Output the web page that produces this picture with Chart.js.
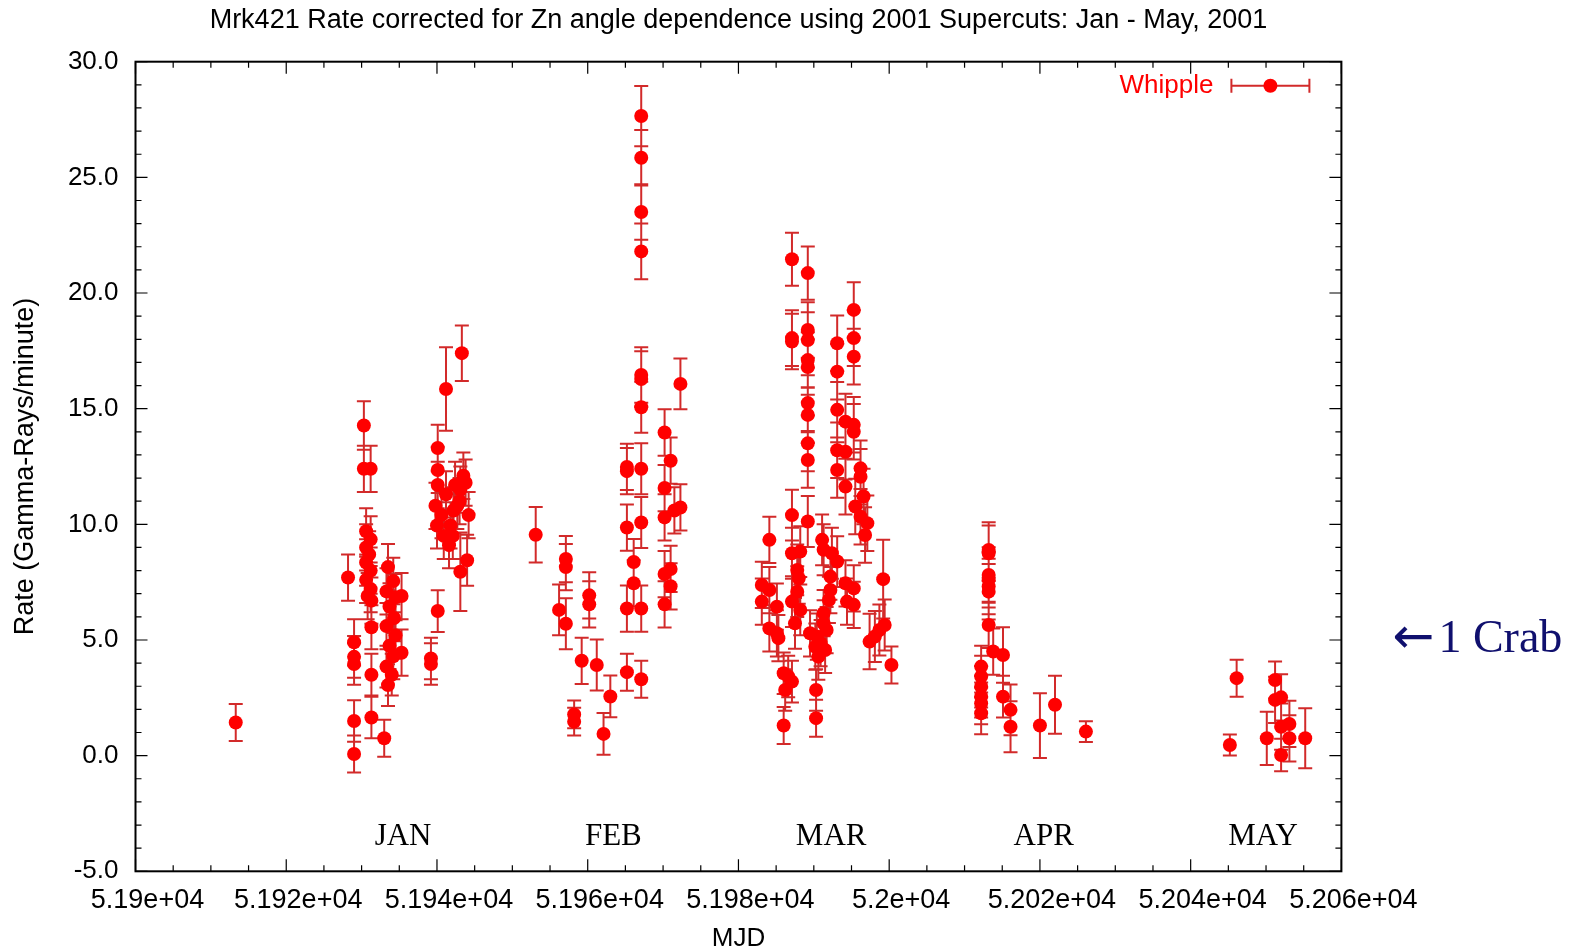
<!DOCTYPE html>
<html>
<head>
<meta charset="utf-8">
<title>Mrk421 Rate 2001</title>
<script src="https://cdn.jsdelivr.net/npm/chart.js@4.4.0/dist/chart.umd.min.js"></script>
<style>
  html, body { margin: 0; padding: 0; background: #fff; }
  canvas { display: block; }
</style>
</head>
<body>
<canvas id="rateChart" width="1585" height="952"></canvas>
<script>
// MJD of each Whipple run
const mjd = [
  51913.3,
  51928.2, 51929.0, 51929.0, 51929.0, 51929.0, 51929.0, 51930.3, 51930.3, 51931.2, 51930.6,
  51931.2, 51930.6, 51931.0, 51930.6, 51931.2, 51930.6, 51931.2, 51930.8, 51931.3, 51931.3,
  51931.3, 51931.3,
  51933.0, 51933.5, 51934.2, 51933.3, 51934.5, 51933.7, 51934.3, 51933.3, 51934.5, 51933.7,
  51934.2, 51933.3, 51934.0, 51933.5, 51935.3, 51935.3,
  51939.2, 51939.2, 51940.1, 51940.1, 51940.1, 51940.1, 51941.2, 51943.3, 51944.0, 51943.1,
  51939.8, 51940.6, 51941.2, 51941.8, 51942.4, 51942.7, 51943.1, 51943.5, 51940.9, 51941.6,
  51942.2, 51943.0, 51940.0, 51942.1, 51943.8, 51944.2,
  51953.1, 51956.2, 51957.1, 51957.1, 51957.1, 51958.2, 51958.2, 51959.2, 51960.2, 51960.2,
  51961.2, 51962.1, 51963.0, 51965.2, 51965.2, 51965.2, 51965.2, 51965.2, 51966.1, 51966.1,
  51967.1, 51967.1, 51967.1, 51967.1, 51967.1, 51967.1, 51967.1, 51967.1, 51967.1, 51967.1,
  51967.1, 51970.2, 51970.2, 51970.2, 51971.0, 51970.2, 51971.0, 51971.0, 51970.2, 51971.5,
  51972.3, 51972.3,
  51987.1, 51989.2, 51987.1, 51987.1, 51989.2, 51989.2, 51989.2, 51989.2, 51989.2, 51989.2,
  51989.2, 51989.2, 51995.3, 51995.3, 51995.3, 51993.1, 51993.1, 51993.1, 51994.2, 51995.3,
  51995.3, 51993.1, 51994.2, 51993.1, 51994.2, 51996.2, 51996.2, 51996.6, 51995.5, 51996.2,
  51997.1, 51996.8, 51987.1, 51989.2, 51984.1, 51991.1, 51991.3, 51992.4, 51993.1, 51987.1,
  51988.2, 51987.8, 51988.0, 51987.8, 51987.1, 51988.2, 51987.5, 51983.1, 51984.1, 51983.1,
  51985.1, 51984.1, 51985.1, 51985.3, 51986.0, 51986.6, 51987.1, 51986.2, 51986.0, 51990.3,
  51990.3, 51989.5, 51990.4, 51990.2, 51990.6, 51991.3, 51991.3, 51991.7, 51990.9, 51991.5,
  51992.2, 51992.2, 51992.0, 51994.2, 51995.3, 51994.4, 51995.3, 51999.2, 51997.4, 51998.1,
  51998.7, 51999.4, 52000.3,
  52013.2, 52013.2, 52013.2, 52013.2, 52013.2, 52013.2, 52013.2, 52013.8, 52015.1, 52012.2,
  52012.2, 52012.2, 52012.2, 52012.2, 52012.2, 52015.1, 52016.1, 52016.1, 52020.0, 52022.0,
  52026.1,
  52045.2, 52046.1, 52050.1, 52051.2, 52051.2, 52052.0, 52052.0, 52052.0, 52053.1, 52053.1,
  52055.2
];

// rate (gamma-rays / minute)
const rate = [
  1.43,
  7.70, 4.90, 4.27, 3.96, 1.50, 0.07, 14.27, 12.40, 12.40, 9.70,
  9.35, 9.00, 8.70, 8.35, 8.00, 7.60, 7.20, 6.90, 6.70, 5.55,
  3.50, 1.65,
  0.75, 8.15, 7.55, 7.10, 6.85, 6.45, 5.95, 5.60, 5.20, 4.75,
  4.30, 3.85, 3.50, 3.05, 6.90, 4.45,
  4.20, 3.96, 6.25, 13.30, 12.35, 11.70, 15.85, 17.40, 8.45, 7.95,
  10.80, 10.40, 11.30, 9.95, 11.70, 10.80, 11.50, 12.10, 9.50, 9.10,
  10.60, 11.00, 9.95, 9.50, 11.80, 10.40,
  9.55, 6.30, 8.50, 8.15, 5.70, 1.78, 1.47, 4.10, 6.93, 6.54,
  3.92, 0.94, 2.56, 12.48, 12.30, 9.86, 6.36, 3.61, 8.37, 7.45,
  27.65, 25.85, 23.50, 21.80, 16.46, 16.28, 15.06, 12.40, 10.08, 6.36,
  3.30, 13.97, 11.57, 10.30, 12.75, 7.85, 8.07, 7.32, 6.54, 10.60,
  10.73, 16.07,
  21.46, 20.86, 18.05, 17.90, 18.40, 17.97, 17.10, 16.80, 15.24, 14.73,
  13.50, 12.78, 19.27, 18.05, 17.25, 17.83, 16.60, 14.95, 14.44, 14.30,
  14.00, 13.20, 13.14, 12.35, 11.63, 12.42, 12.06, 11.20, 10.77, 10.33,
  10.05, 9.54, 10.40, 10.12, 9.33, 9.33, 8.90, 8.75, 8.39, 8.75,
  8.82, 8.03, 7.67, 7.09, 6.66, 6.30, 5.72, 7.38, 7.16, 6.66,
  6.44, 5.50, 5.29, 5.08, 3.56, 3.42, 3.20, 2.84, 1.30, 2.84,
  1.62, 5.29, 5.15, 4.71, 4.28, 5.72, 6.16, 5.43, 4.86, 4.57,
  7.74, 7.16, 6.73, 7.45, 7.23, 6.66, 6.52, 7.63, 4.93, 5.15,
  5.43, 5.65, 3.92,
  8.89, 8.75, 7.81, 7.60, 7.31, 7.09, 5.65, 4.50, 4.35, 3.85,
  3.42, 2.98, 2.55, 2.26, 1.83, 2.55, 1.98, 1.25, 1.30, 2.20,
  1.04,
  0.46, 3.35, 0.75, 3.27, 2.41, 2.52, 1.25, 0.03, 1.37, 0.75,
  0.75
];

// 1 sigma error on rate
const rateErr = [
  0.80,
  1.00, 1.00, 0.90, 0.90, 0.90, 0.80, 1.05, 1.00, 1.00, 1.00,
  1.00, 1.00, 1.00, 1.00, 1.00, 1.00, 1.00, 1.00, 1.00, 0.95,
  0.90, 0.90,
  0.80, 1.00, 1.00, 1.00, 1.00, 1.00, 1.00, 1.00, 1.00, 1.00,
  1.00, 0.90, 0.90, 0.90, 1.00, 1.00,
  0.90, 0.90, 0.90, 1.00, 1.00, 1.00, 1.80, 1.20, 1.10, 1.70,
  1.00, 1.00, 1.00, 1.00, 1.00, 1.00, 1.00, 1.00, 1.00, 1.00,
  1.00, 1.00, 1.00, 1.00, 1.00, 1.00,
  1.20, 1.10, 1.00, 1.00, 1.10, 0.60, 0.60, 1.00, 1.00, 1.00,
  1.10, 0.90, 0.90, 1.00, 1.00, 1.00, 1.00, 0.80, 1.00, 1.00,
  1.30, 1.20, 1.20, 1.20, 1.20, 1.20, 1.10, 1.10, 1.10, 1.00,
  0.80, 1.00, 1.00, 1.00, 1.00, 1.00, 1.00, 1.00, 1.00, 1.00,
  1.00, 1.10,
  1.15, 1.15, 1.20, 1.20, 1.20, 1.20, 1.20, 1.20, 1.20, 1.20,
  1.20, 1.20, 1.20, 1.20, 1.20, 1.20, 1.20, 1.20, 1.20, 1.20,
  1.20, 1.20, 1.20, 1.20, 1.20, 1.20, 1.20, 1.20, 1.20, 1.20,
  1.20, 1.20, 1.10, 1.10, 1.00, 1.10, 1.10, 1.10, 1.10, 1.10,
  1.10, 1.10, 1.10, 1.10, 1.10, 1.10, 1.10, 1.00, 1.00, 1.00,
  1.00, 1.00, 1.00, 1.00, 0.90, 0.90, 0.90, 0.90, 0.80, 0.90,
  0.80, 1.00, 1.00, 1.00, 1.00, 1.00, 1.00, 1.00, 1.00, 1.00,
  1.00, 1.00, 1.00, 1.00, 1.00, 1.00, 1.00, 1.70, 1.20, 1.10,
  1.10, 1.10, 0.80,
  1.20, 1.20, 1.20, 1.20, 1.20, 1.20, 1.00, 1.00, 1.20, 0.90,
  0.90, 0.90, 0.90, 0.90, 0.90, 0.90, 1.10, 1.10, 1.40, 1.25,
  0.45,
  0.45, 0.80, 1.15, 0.80, 1.00, 1.00, 1.00, 0.70, 1.00, 1.00,
  1.30
];

const xTickLabels = ['5.19e+04', '5.192e+04', '5.194e+04', '5.196e+04', '5.198e+04',
                     '5.2e+04', '5.202e+04', '5.204e+04', '5.206e+04'];
const yTickLabels = ['-5.0', '0.0', '5.0', '10.0', '15.0', '20.0', '25.0', '30.0'];

const monthLabels = ['JAN', 'FEB', 'MAR', 'APR', 'MAY'];
const monthMjd = [51935.5, 51963.4, 51992.3, 52020.5, 52049.6];
const monthRate = -3.5;
const crabRate = 5.0;

const xMin = 51900, xMax = 52060, xStep = 20, xMinor = 5;
const yMin = -5, yMax = 30, yStep = 5, yMinor = 1;

const SANS = "'Liberation Sans', Arial, Helvetica, sans-serif";
const SERIF = "'Liberation Serif', 'Times New Roman', serif";
const RED = '#ff0000';
const ERR_RED = '#d22a2a';

// error bars with short caps, drawn under the dots
const errorBars = {
  id: 'errorBars',
  beforeDatasetsDraw(chart) {
    const {ctx, scales: {x, y}} = chart;
    ctx.save();
    ctx.strokeStyle = ERR_RED;
    ctx.lineWidth = 2;
    ctx.beginPath();
    mjd.forEach((m, i) => {
      const px = x.getPixelForValue(m);
      const top = y.getPixelForValue(rate[i] + rateErr[i]);
      const bot = y.getPixelForValue(rate[i] - rateErr[i]);
      ctx.moveTo(px, top); ctx.lineTo(px, bot);
      ctx.moveTo(px - 7, top); ctx.lineTo(px + 7, top);
      ctx.moveTo(px - 7, bot); ctx.lineTo(px + 7, bot);
    });
    ctx.stroke();
    ctx.restore();
  }
};

// gnuplot style box with inward ticks on all four sides
const frameTicks = {
  id: 'frameTicks',
  afterDatasetsDraw(chart) {
    const {ctx, chartArea: a, scales: {x, y}} = chart;
    ctx.save();
    ctx.strokeStyle = '#000';
    ctx.lineWidth = 1.2;
    ctx.beginPath();
    for (let v = xMin; v <= xMax; v += xMinor) {
      const px = x.getPixelForValue(v);
      const len = (v - xMin) % xStep === 0 ? 12 : 6;
      ctx.moveTo(px, a.bottom); ctx.lineTo(px, a.bottom - len);
      ctx.moveTo(px, a.top); ctx.lineTo(px, a.top + len);
    }
    for (let v = yMin; v <= yMax; v += yMinor) {
      const py = y.getPixelForValue(v);
      const len = (v - yMin) % yStep === 0 ? 12 : 6;
      ctx.moveTo(a.left, py); ctx.lineTo(a.left + len, py);
      ctx.moveTo(a.right, py); ctx.lineTo(a.right - len, py);
    }
    ctx.stroke();
    ctx.lineWidth = 2;
    ctx.strokeRect(a.left, a.top, a.right - a.left, a.bottom - a.top);
    ctx.restore();
  }
};

// key, month names and the 1 Crab marker
const notes = {
  id: 'notes',
  afterDraw(chart) {
    const {ctx, chartArea: a, scales: {x, y}} = chart;
    ctx.save();

    const ky = a.top + 24;
    ctx.font = '26px ' + SANS;
    ctx.fillStyle = RED;
    ctx.textAlign = 'right';
    ctx.textBaseline = 'middle';
    ctx.fillText('Whipple', a.right - 128, ky);
    const x0 = a.right - 110, x1 = a.right - 32;
    ctx.strokeStyle = ERR_RED;
    ctx.lineWidth = 2;
    ctx.beginPath();
    ctx.moveTo(x0, ky); ctx.lineTo(x1, ky);
    ctx.moveTo(x0, ky - 7); ctx.lineTo(x0, ky + 7);
    ctx.moveTo(x1, ky - 7); ctx.lineTo(x1, ky + 7);
    ctx.stroke();
    ctx.fillStyle = RED;
    ctx.beginPath();
    ctx.arc((x0 + x1) / 2, ky, 7, 0, Math.PI * 2);
    ctx.fill();

    ctx.font = '31px ' + SERIF;
    ctx.fillStyle = '#000';
    ctx.textAlign = 'center';
    monthLabels.forEach((m, i) => {
      ctx.fillText(m, x.getPixelForValue(monthMjd[i]), y.getPixelForValue(monthRate));
    });

    const cy = y.getPixelForValue(crabRate);
    ctx.fillStyle = '#10106e';
    ctx.textAlign = 'left';
    ctx.font = '50px "DejaVu Sans", sans-serif';
    ctx.fillText('\u2190', a.right + 51, cy);
    ctx.font = '46px ' + SERIF;
    ctx.fillText('1 Crab', a.right + 97, cy);
    ctx.restore();
  }
};

const ctx = document.getElementById('rateChart').getContext('2d');
new Chart(ctx, {
  type: 'scatter',
  data: {
    datasets: [{
      label: 'Whipple',
      data: mjd.map((m, i) => ({x: m, y: rate[i]})),
      backgroundColor: RED,
      borderWidth: 0,
      pointRadius: 7,
      pointHoverRadius: 7
    }]
  },
  options: {
    responsive: false,
    animation: false,
    devicePixelRatio: 1,
    layout: { padding: { left: 0, right: 243.6, top: 0, bottom: 0 } },
    plugins: {
      legend: { display: false },
      tooltip: { enabled: false },
      title: {
        display: true,
        fullSize: false,
        text: 'Mrk421 Rate corrected for Zn angle dependence using 2001 Supercuts: Jan - May, 2001',
        color: '#000',
        font: { family: SANS, size: 27, weight: 'normal', lineHeight: 1.2 },
        padding: { top: 4, bottom: 25.3 }
      }
    },
    scales: {
      x: {
        type: 'linear',
        min: xMin,
        max: xMax,
        grid: { display: false, drawTicks: false },
        border: { display: false },
        ticks: {
          stepSize: xStep,
          padding: 13,
          labelOffset: 12,
          color: '#000',
          maxRotation: 0,
          font: { family: SANS, size: 27 },
          callback: (v, i) => xTickLabels[i]
        },
        title: {
          display: true,
          text: 'MJD',
          color: '#000',
          font: { family: SANS, size: 26, lineHeight: 1.0 },
          padding: { top: 0, bottom: 0 }
        },
        afterFit: s => { s.height = 80.7; }
      },
      y: {
        min: yMin,
        max: yMax,
        grid: { display: false, drawTicks: false },
        border: { display: false },
        ticks: {
          stepSize: yStep,
          padding: 17,
          color: '#000',
          font: { family: SANS, size: 26 },
          callback: (v, i) => yTickLabels[i]
        },
        title: {
          display: true,
          text: 'Rate (Gamma-Rays/minute)',
          color: '#000',
          font: { family: SANS, size: 27, lineHeight: 1.0 },
          padding: { top: 12, bottom: 0 }
        },
        afterFit: s => { s.width = 135.5; }
      }
    }
  },
  plugins: [errorBars, frameTicks, notes]
});
</script>
</body>
</html>
